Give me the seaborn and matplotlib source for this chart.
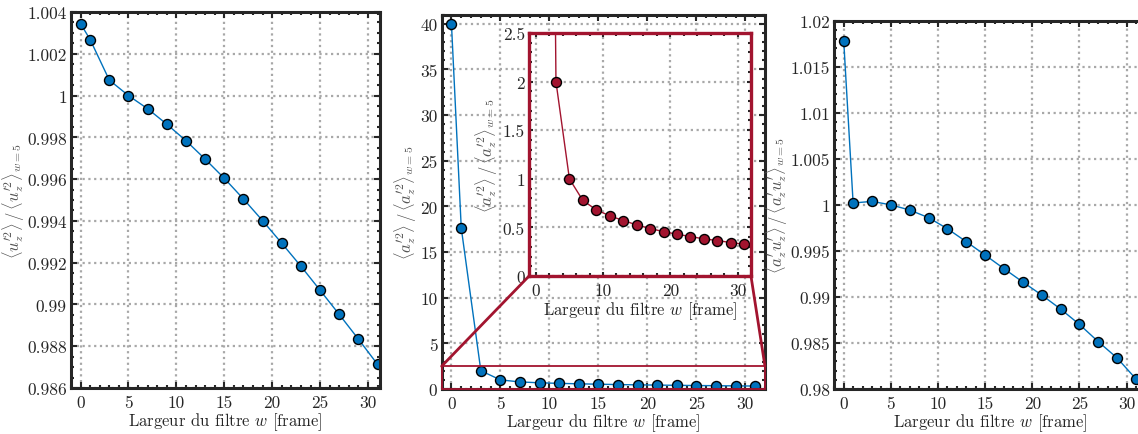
import numpy as np
import matplotlib
matplotlib.use("Agg")
import matplotlib.pyplot as plt
from matplotlib.ticker import MultipleLocator, FuncFormatter
from matplotlib.patches import Rectangle, ConnectionPatch
import seaborn as sns

# largeur du filtre (frames)
w = [0, 1, 3, 5, 7, 9, 11, 13, 15, 17, 19, 21, 23, 25, 27, 29, 31]

# <u'^2> normalise par w=5
uu = [1.00344, 1.00268, 1.00074, 1.00000, 0.99937, 0.99863, 0.99784, 0.99696,
      0.99604, 0.99505, 0.99401, 0.99293, 0.99183, 0.99068, 0.98952, 0.98834, 0.98713]

# <a'^2> normalise par w=5
aa = [40.0, 17.64, 2.0, 1.0, 0.777, 0.681, 0.619, 0.571, 0.526, 0.488, 0.457,
      0.430, 0.406, 0.382, 0.365, 0.344, 0.327]

# <a'u'> normalise par w=5
au = [1.01783, 1.00020, 1.00038, 1.00000, 0.99944, 0.99861, 0.99741, 0.99600,
      0.99455, 0.99307, 0.99162, 0.99021, 0.98869, 0.98702, 0.98514, 0.98337, 0.98109]

xlabel = r'Largeur du filtre $w$ [frame]'
ylab1 = r"$\langle u_z^{\prime 2}\rangle\,/\,\langle u_z^{\prime 2}\rangle_{w=5}$"
ylab2 = r"$\langle a_z^{\prime 2}\rangle\,/\,\langle a_z^{\prime 2}\rangle_{w=5}$"
ylab3 = r"$\langle a_z^{\prime} u_z^{\prime}\rangle\,/\,\langle a_z^{\prime} u_z^{\prime}\rangle_{w=5}$"

blue = '#0072BD'
red = '#A2142F'
dark = '#262626'

sns.set_style('white')
plt.rcParams['font.family'] = 'serif'
plt.rcParams['font.serif'] = ['cmr10']
plt.rcParams['mathtext.fontset'] = 'cm'
plt.rcParams['axes.formatter.use_mathtext'] = True
plt.rcParams['font.size'] = 12

fmt = FuncFormatter(lambda v, p: '%g' % round(v, 6))


def style(ax, xmaj, xmin, ymaj, ymin, spine_col=dark, lw=2.2):
    ax.xaxis.set_major_locator(MultipleLocator(xmaj))
    ax.xaxis.set_minor_locator(MultipleLocator(xmin))
    ax.yaxis.set_major_locator(MultipleLocator(ymaj))
    ax.yaxis.set_minor_locator(MultipleLocator(ymin))
    ax.yaxis.set_major_formatter(fmt)
    ax.xaxis.set_major_formatter(fmt)
    ax.tick_params(which='both', direction='in', top=True, right=True,
                   bottom=True, left=True,
                   color=dark, labelcolor=dark, labelsize=12.5)
    ax.tick_params(which='major', length=4.5, width=1.5)
    ax.tick_params(which='minor', length=2.5, width=1.5)
    ax.tick_params(axis='y', pad=3)
    ax.tick_params(axis='x', pad=5)
    ax.grid(True, which='major', linestyle=(0, (1, 1.6)), color='#a8a8a8',
            linewidth=1.6)
    for s in ax.spines.values():
        s.set_color(spine_col)
        s.set_linewidth(lw)
        s.set_visible(True)


fig = plt.figure(figsize=(11.38, 4.35), dpi=100)

mk = dict(marker='o', markersize=7.2, markeredgecolor='k', markeredgewidth=1.0,
          linewidth=1.0)

# panneau 1
ax1 = fig.add_axes([0.0624, 0.1057, 0.2715, 0.8643])
sns.lineplot(x=w, y=uu, ax=ax1, color=blue, **mk)
ax1.set_xlim(-1, 31.25)
ax1.set_ylim(0.986, 1.004)
style(ax1, 5, 1, 0.002, 0.0005)
ax1.set_xlabel(xlabel, color=dark, labelpad=0)
ax1.set_ylabel(ylab1, color='#555555', labelpad=0)

# panneau 2
ax2 = fig.add_axes([0.3881, 0.1034, 0.2841, 0.8605])
sns.lineplot(x=w, y=aa, ax=ax2, color=blue, **mk)
ax2.set_xlim(-1, 32)
ax2.set_ylim(0, 41)
style(ax2, 5, 1, 5, 1)
ax2.set_xlabel(xlabel, color=dark, labelpad=0)
ax2.set_ylabel(ylab2, color='#555555', labelpad=1)

ax2.add_patch(Rectangle((-1, 0), 33, 2.5, fill=False, edgecolor=red,
                        linewidth=1.3, zorder=5, clip_on=False))

# zoom
axi = fig.add_axes([0.4649, 0.3632, 0.1950, 0.5586])
sns.lineplot(x=w, y=aa, ax=axi, color=red, **mk)
axi.set_xlim(-1, 32)
axi.set_ylim(0, 2.5)
style(axi, 10, 2, 0.5, 0.1, spine_col=red, lw=2.4)
axi.tick_params(which='major', length=3)
axi.tick_params(which='minor', length=2)
axi.set_facecolor('white')
axi.set_xlabel(xlabel, color=dark, labelpad=1)
axi.set_ylabel(ylab2, color='#555555', labelpad=2)

for xa, xb in [((-1, 2.5), (0, 0)), ((32, 2.5), (1, 0))]:
    con = ConnectionPatch(xyA=xa, coordsA=ax2.transData, xyB=xb,
                          coordsB=axi.transAxes, color=red, linewidth=2.0,
                          zorder=6)
    fig.add_artist(con)

# panneau 3
ax3 = fig.add_axes([0.7331, 0.1034, 0.2734, 0.8467])
sns.lineplot(x=w, y=au, ax=ax3, color=blue, **mk)
ax3.set_xlim(-1, 32)
ax3.set_ylim(0.98, 1.02)
style(ax3, 5, 1, 0.005, 0.001)
ax3.set_xlabel(xlabel, color=dark, labelpad=0)
ax3.set_ylabel(ylab3, color='#555555', labelpad=0)

fig.savefig('out.png', dpi=100)
